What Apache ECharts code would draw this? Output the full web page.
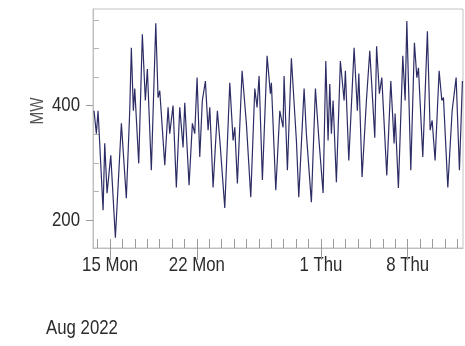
<!DOCTYPE html>
<html>
<head>
<meta charset="utf-8">
<script src="https://cdn.jsdelivr.net/npm/echarts@6/dist/echarts.min.js"></script>
<style>
  html, body { margin: 0; padding: 0; background: #fff; }
  #chart { width: 465px; height: 346px; }
</style>
</head>
<body>
<div id="chart"></div>
<script>
// Turning points of the load curve (local time)
const times = [
  '2022-08-13 17:00', '2022-08-13 21:30', '2022-08-14 00:48', '2022-08-14 10:30', '2022-08-14 13:42',
  '2022-08-14 18:12', '2022-08-15 01:24', '2022-08-15 10:18', '2022-08-15 21:54', '2022-08-16 07:30',
  '2022-08-16 14:06', '2022-08-16 17:12', '2022-08-16 21:06', '2022-08-16 23:48', '2022-08-17 07:30',
  '2022-08-17 14:30', '2022-08-17 20:18', '2022-08-18 00:12', '2022-08-18 07:54', '2022-08-18 16:30',
  '2022-08-18 20:54', '2022-08-19 00:12', '2022-08-19 09:54', '2022-08-19 16:18', '2022-08-19 19:30',
  '2022-08-20 01:54', '2022-08-20 08:18', '2022-08-20 14:54', '2022-08-20 21:18', '2022-08-21 00:36',
  '2022-08-21 08:54', '2022-08-21 15:18', '2022-08-21 19:54', '2022-08-22 00:24', '2022-08-22 05:36',
  '2022-08-22 10:36', '2022-08-22 16:30', '2022-08-22 21:42', '2022-08-23 01:00', '2022-08-23 07:24',
  '2022-08-23 15:42', '2022-08-23 20:54', '2022-08-24 06:00', '2022-08-24 15:42', '2022-08-24 22:06',
  '2022-08-25 01:24', '2022-08-25 06:24', '2022-08-25 15:30', '2022-08-25 23:48', '2022-08-26 08:18',
  '2022-08-26 16:06', '2022-08-26 20:30', '2022-08-27 00:24', '2022-08-27 06:48', '2022-08-27 15:54',
  '2022-08-27 22:18', '2022-08-28 00:12', '2022-08-28 08:42', '2022-08-28 16:30', '2022-08-28 22:48',
  '2022-08-29 00:48', '2022-08-29 07:12', '2022-08-29 14:54', '2022-08-30 00:36', '2022-08-30 05:12',
  '2022-08-30 15:30', '2022-08-30 19:54', '2022-08-31 05:36', '2022-08-31 13:24', '2022-08-31 19:54',
  '2022-09-01 04:18', '2022-09-01 09:30', '2022-09-01 13:54', '2022-09-01 17:12', '2022-09-01 20:18',
  '2022-09-01 23:36', '2022-09-02 06:00', '2022-09-02 13:42', '2022-09-02 20:54', '2022-09-02 23:24',
  '2022-09-03 06:00', '2022-09-03 16:18', '2022-09-03 22:36', '2022-09-04 01:24', '2022-09-04 07:42',
  '2022-09-04 16:06', '2022-09-04 22:36', '2022-09-05 08:18', '2022-09-05 11:48', '2022-09-05 17:12',
  '2022-09-05 21:54', '2022-09-06 07:30', '2022-09-06 15:18', '2022-09-06 21:42', '2022-09-06 23:36',
  '2022-09-07 06:00', '2022-09-07 14:30', '2022-09-07 19:00', '2022-09-07 22:18', '2022-09-08 06:00',
  '2022-09-08 13:00', '2022-09-08 17:42', '2022-09-08 20:48', '2022-09-09 05:12', '2022-09-09 14:06',
  '2022-09-09 19:24', '2022-09-09 23:18', '2022-09-10 05:00', '2022-09-10 12:48', '2022-09-10 18:00',
  '2022-09-10 21:12', '2022-09-11 05:36', '2022-09-11 14:00', '2022-09-11 21:42', '2022-09-12 04:06',
  '2022-09-12 09:54'
];
const mw = [
  391, 351, 391, 217, 334, 247, 313, 169, 369, 238,
  391, 501, 391, 430, 299, 525, 409, 464, 287, 544,
  414, 426, 296, 397, 351, 400, 257, 397, 327, 405,
  261, 369, 351, 449, 310, 409, 443, 357, 397, 257,
  391, 334, 221, 440, 339, 362, 264, 461, 369, 240,
  430, 397, 452, 270, 487, 421, 440, 252, 391, 362,
  452, 287, 483, 339, 240, 430, 351, 231, 430, 344,
  247, 478, 339, 438, 351, 409, 266, 478, 409, 461,
  304, 501, 391, 456, 275, 409, 496, 344, 504, 421,
  449, 278, 443, 334, 386, 256, 487, 409, 548, 287,
  510, 449, 466, 310, 530, 357, 374, 304, 461, 409,
  414, 257, 391, 449, 287, 443
];

// Axis range and ticks
const xStart = '2022-08-13 15:00';
const xEnd = '2022-09-12 11:00';
const dayTicks = [
  '2022-08-14', '2022-08-15', '2022-08-16', '2022-08-17', '2022-08-18', '2022-08-19', '2022-08-20',
  '2022-08-21', '2022-08-22', '2022-08-23', '2022-08-24', '2022-08-25', '2022-08-26', '2022-08-27',
  '2022-08-28', '2022-08-29', '2022-08-30', '2022-08-31', '2022-09-01', '2022-09-02', '2022-09-03',
  '2022-09-04', '2022-09-05', '2022-09-06', '2022-09-07', '2022-09-08', '2022-09-09', '2022-09-10',
  '2022-09-11', '2022-09-12'
];
const labelDays = ['2022-08-15', '2022-08-22', '2022-09-01', '2022-09-08'];
const labelTexts = ['15 Mon', '22 Mon', '1 Thu', '8 Thu'];
const yMajor = [200, 400];
const yMinor = [250, 300, 350, 450, 500, 550];

// parse 'YYYY-MM-DD HH:mm' as local time, in ms
const ts = s => {
  const [d, t] = s.split(' ');
  const [y, m, day] = d.split('-').map(Number);
  const [hh, mm] = (t || '00:00').split(':').map(Number);
  return new Date(y, m - 1, day, hh, mm).getTime();
};
const labelMs = labelDays.map(ts);
const font = 'Liberation Sans, Arial, sans-serif';
const squeeze = 0.8; // the original labels use a narrow face
const textColor = '#2b2b2b';
const tickColor = '#9a9a9a';

const chart = echarts.init(document.getElementById('chart'), null, { renderer: 'canvas' });

chart.setOption({
  backgroundColor: '#ffffff',
  animation: false,
  grid: {
    left: 93, right: 2, top: 9, bottom: 98,
    show: true, borderColor: '#c4c4c4', borderWidth: 1
  },
  xAxis: [
    {
      // daily ticks, pointing into the plot
      type: 'value', min: ts(xStart), max: ts(xEnd),
      axisLine: { show: true, lineStyle: { color: '#bdbdbd' } },
      axisTick: { show: true, inside: true, length: 9, customValues: dayTicks.map(ts), lineStyle: { color: tickColor } },
      axisLabel: { show: false },
      splitLine: { show: false }
    },
    {
      // labelled days, ticks outside
      type: 'value', min: ts(xStart), max: ts(xEnd), position: 'bottom',
      axisLine: { show: false },
      axisTick: { show: true, length: 12, customValues: labelMs, lineStyle: { color: tickColor } },
      axisLabel: { show: false },
      splitLine: { show: false }
    }
  ],
  yAxis: [
    {
      type: 'value', min: 151, max: 569,
      axisLine: { show: true, lineStyle: { color: '#bdbdbd' } },
      axisTick: { show: true, length: 7, customValues: yMajor, lineStyle: { color: tickColor } },
      axisLabel: { show: false },
      splitLine: { show: false }
    },
    {
      type: 'value', min: 151, max: 569, position: 'left',
      axisLine: { show: false },
      axisTick: { show: true, inside: true, length: 6, customValues: yMinor, lineStyle: { color: '#b5b5b5' } },
      axisLabel: { show: false },
      splitLine: { show: false }
    }
  ],
  series: [
    {
      type: 'line',
      xAxisIndex: 0, yAxisIndex: 0,
      data: times.map((t, i) => [ts(t), mw[i]]),
      showSymbol: false,
      lineStyle: { color: '#2d2d66', width: 1.2 }
    }
  ]
});

// Tick labels in a condensed look, placed through the axes' own scales
const labelFont = '21px ' + font;
const xLabelY = chart.convertToPixel({ yAxisIndex: 0 }, 151) + 7;
const yLabelX = chart.convertToPixel({ xAxisIndex: 0 }, ts(xStart)) - 13;
const graphics = [];
labelMs.forEach((v, i) => {
  graphics.push({
    type: 'text', x: chart.convertToPixel({ xAxisIndex: 0 }, v), y: xLabelY, scaleX: squeeze,
    style: { text: labelTexts[i], fill: textColor, font: labelFont, align: 'center', verticalAlign: 'top' }
  });
});
yMajor.forEach(v => {
  graphics.push({
    type: 'text', x: yLabelX, y: chart.convertToPixel({ yAxisIndex: 0 }, v), scaleX: squeeze,
    style: { text: String(v), fill: textColor, font: labelFont, align: 'right', verticalAlign: 'middle' }
  });
});
graphics.push({
  type: 'text', x: 38, y: 111, rotation: Math.PI / 2, scaleX: squeeze,
  style: { text: 'MW', fill: '#555', font: '19px ' + font, align: 'center', verticalAlign: 'middle' }
});
graphics.push({
  type: 'text', x: 46, y: 318, scaleX: squeeze,
  style: { text: 'Aug 2022', fill: textColor, font: labelFont, align: 'left', verticalAlign: 'top' }
});
chart.setOption({ graphic: graphics });
</script>
</body>
</html>
